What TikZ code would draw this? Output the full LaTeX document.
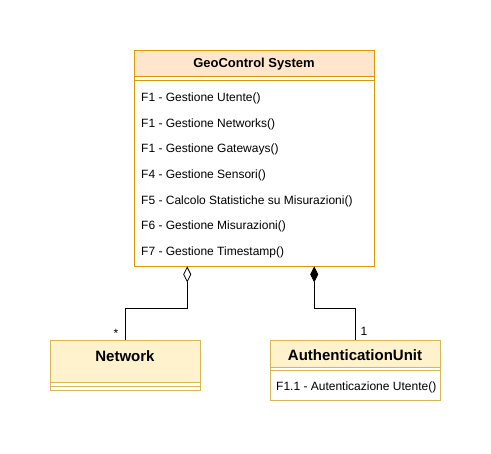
\documentclass[tikz,border=0pt]{standalone}
\usepackage{fontspec}
\setmainfont{Liberation Sans}
\usetikzlibrary{arrows.meta}

\definecolor{sysline}{HTML}{D79B00}
\definecolor{sysfill}{HTML}{FFE6CC}
\definecolor{clsline}{HTML}{D6B656}
\definecolor{clsfill}{HTML}{FFF2CC}

\begin{document}
\begin{tikzpicture}[x=1pt,y=-1pt,
classhead/.style={draw,rectangle,anchor=north west,inner sep=0pt},
classname/.style={inner sep=0pt,font=\fontsize{15}{17}\selectfont\bfseries},
classbody/.style={draw,rectangle,anchor=north west,inner sep=0pt,fill=white},
method/.style={anchor=west,inner sep=0pt,font=\fontsize{12}{14}\selectfont},
mult/.style={inner sep=0pt,font=\fontsize{12}{14}\selectfont},
aggr/.style={-{Diamond[open,length=16pt,width=8pt]},line width=0.8pt},
comp/.style={-{Diamond[length=16pt,width=8pt]},line width=0.8pt}]
\useasboundingbox (0,0) rectangle (491,454);

% GeoControl System
\node[classhead,draw=sysline,fill=sysfill,minimum width=240pt,minimum height=26pt] (syshead) at (134,50) {};
\node[classname,font=\fontsize{13}{15}\selectfont\bfseries] (sysname) at (254,64) {GeoControl System};
\node[classbody,draw=sysline,minimum width=240pt,minimum height=4pt] (sysband) at (134,76) {};
\node[classbody,draw=sysline,minimum width=240pt,minimum height=186pt] (sysbody) at (134,80) {};
\node[method] (m1) at (141,98) {F1 - Gestione Utente()};
\node[method] (m2) at (141,124) {F1 - Gestione Networks()};
\node[method] (m3) at (141,149) {F1 - Gestione Gateways()};
\node[method] (m4) at (141,175) {F4 - Gestione Sensori()};
\node[method] (m5) at (141,201) {F5 - Calcolo Statistiche su Misurazioni()};
\node[method] (m6) at (141,226) {F6 - Gestione Misurazioni()};
\node[method] (m7) at (141,252) {F7 - Gestione Timestamp()};

% Network
\node[classhead,draw=clsline,fill=clsfill,minimum width=150pt,minimum height=42pt] (net) at (50,340) {};
\node[classname] (netname) at (125,356) {Network};
\node[classbody,draw=clsline,minimum width=150pt,minimum height=4pt] (netband) at (50,382) {};
\node[classbody,draw=clsline,minimum width=150pt,minimum height=4pt] (netbody) at (50,386) {};

% AuthenticationUnit
\node[classhead,draw=clsline,fill=clsfill,minimum width=170pt,minimum height=27pt] (auth) at (270,340) {};
\node[classname] (authname) at (355,355) {AuthenticationUnit};
\node[classbody,draw=clsline,minimum width=170pt,minimum height=3pt] (authband) at (270,367) {};
\node[classbody,draw=clsline,minimum width=170pt,minimum height=30pt] (authbody) at (270,370) {};
\node[method] (a1) at (276,387) {F1.1 - Autenticazione Utente()};

% relations
\draw[aggr] (net.north) -- ++(0,-32) -| ([xshift=-67pt]sysbody.south);
\draw[comp] (auth.north) -- ++(0,-32) -| ([xshift=60pt]sysbody.south);
\node[mult] (netmult) at (116,333) {*};
\node[mult] (authmult) at (364,331) {1};
\end{tikzpicture}
\end{document}
